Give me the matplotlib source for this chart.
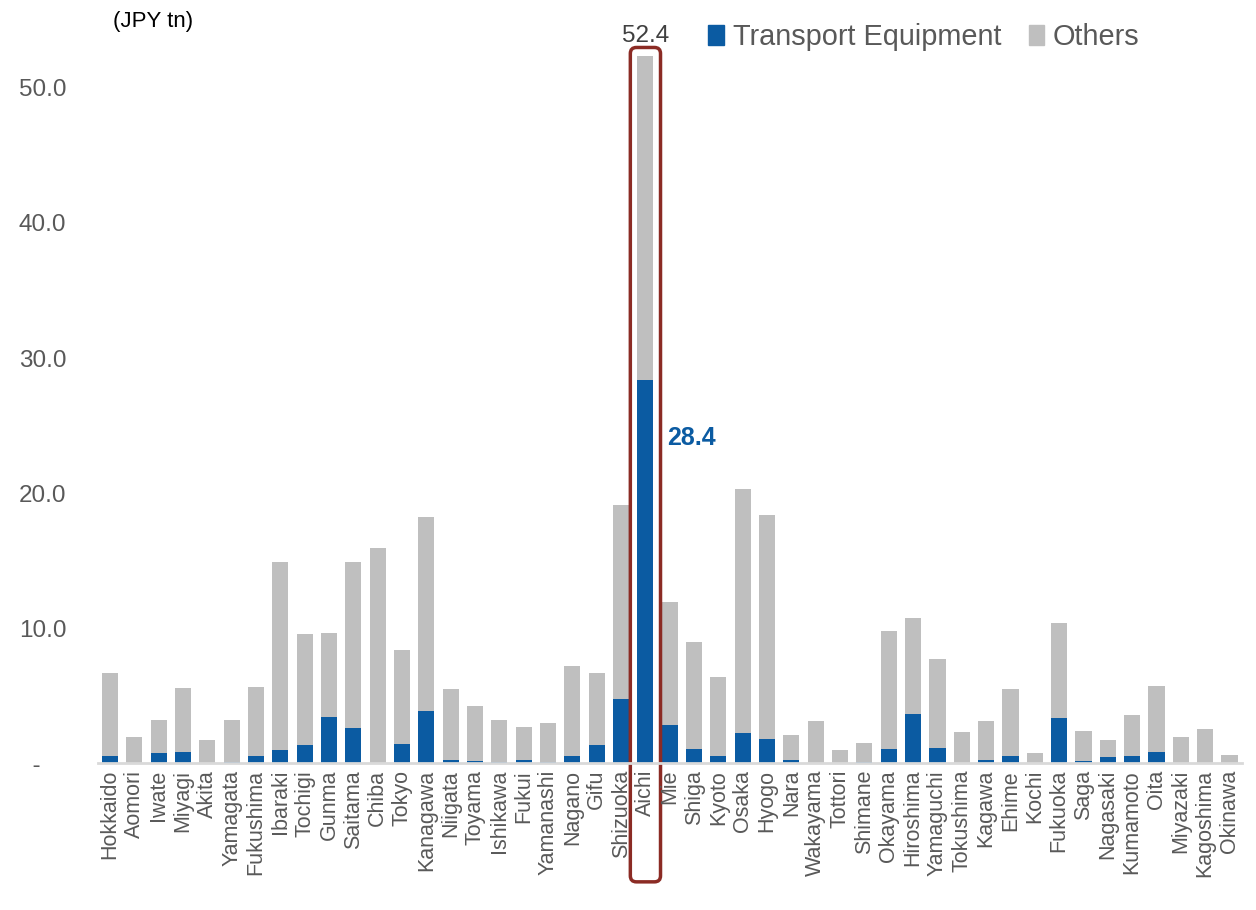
import numpy as np
import matplotlib.pyplot as plt
from matplotlib.patches import FancyBboxPatch, Patch

plt.rcParams['font.family'] = ['Liberation Sans', 'DejaVu Sans']

prefectures = ['Hokkaido', 'Aomori', 'Iwate', 'Miyagi', 'Akita', 'Yamagata', 'Fukushima',
               'Ibaraki', 'Tochigi', 'Gunma', 'Saitama', 'Chiba', 'Tokyo', 'Kanagawa',
               'Niigata', 'Toyama', 'Ishikawa', 'Fukui', 'Yamanashi', 'Nagano', 'Gifu',
               'Shizuoka', 'Aichi', 'Mie', 'Shiga', 'Kyoto', 'Osaka', 'Hyogo', 'Nara',
               'Wakayama', 'Tottori', 'Shimane', 'Okayama', 'Hiroshima', 'Yamaguchi',
               'Tokushima', 'Kagawa', 'Ehime', 'Kochi', 'Fukuoka', 'Saga', 'Nagasaki',
               'Kumamoto', 'Oita', 'Miyazaki', 'Kagoshima', 'Okinawa']

# total shipments (JPY tn) and transport equipment part
total = [6.7, 1.9, 3.2, 5.55, 1.7, 3.2, 5.6,
         14.9, 9.55, 9.6, 14.9, 15.95, 8.35, 18.25,
         5.45, 4.2, 3.2, 2.65, 3.0, 7.2, 6.65,
         19.1, 52.4, 11.9, 9.0, 6.35, 20.3, 18.4, 2.05,
         3.15, 1.0, 1.5, 9.8, 10.75, 7.7,
         2.3, 3.15, 5.45, 0.75, 10.4, 2.4, 1.7,
         3.55, 5.7, 1.95, 2.5, 0.6]
transport = [0.5, 0.0, 0.75, 0.8, 0.0, 0.1, 0.55,
             0.95, 1.35, 3.4, 2.6, 0.0, 1.4, 3.85,
             0.2, 0.15, 0.1, 0.2, 0.1, 0.55, 1.3,
             4.75, 28.4, 2.85, 1.05, 0.55, 2.2, 1.8, 0.2,
             0.0, 0.0, 0.05, 1.05, 3.6, 1.1,
             0.0, 0.2, 0.5, 0.0, 3.3, 0.15, 0.45,
             0.5, 0.85, 0.0, 0.0, 0.0]
others = [t - e for t, e in zip(total, transport)]

blue = '#0B5BA2'
grey = '#BFBFBF'
txt = '#595959'
hl = 'Aichi'

fig = plt.figure(figsize=(12.56, 9.10), dpi=100)
ax = fig.add_axes([0.0779, 0.1615, 0.9107, 0.816])

x = np.arange(len(prefectures))
ax.bar(x, transport, width=0.66, color=blue, label='Transport Equipment')
ax.bar(x, others, width=0.66, bottom=transport, color=grey, label='Others')

ax.set_xlim(-0.5, len(prefectures) - 0.5)
ax.set_ylim(0, 55)
ax.set_xticks(x)
ax.set_xticklabels(prefectures, rotation=90, fontsize=15.5, color=txt)
ax.set_yticks([0, 10, 20, 30, 40, 50])
ax.set_yticklabels(['  -', '10.0', '20.0', '30.0', '40.0', '50.0'], fontsize=17.5, color=txt)
for lab in ax.get_yticklabels():
    lab.set_horizontalalignment('left')
ax.tick_params(axis='y', length=0, pad=57)
ax.tick_params(axis='x', length=0, pad=5)
for s in ['top', 'right', 'left']:
    ax.spines[s].set_visible(False)
ax.spines['bottom'].set_color('#D9D9D9')
ax.spines['bottom'].set_linewidth(2)

i = prefectures.index(hl)
ax.text(i, total[i] + 0.6, f'{total[i]:.1f}', ha='center', va='bottom', fontsize=17.5, color='#404040')
ax.text(i + 0.88, transport[i] - 4.3, f'{transport[i]:.1f}', ha='left', va='center',
        fontsize=18, fontweight='bold', color=blue)

box = FancyBboxPatch((i - 0.62, -8.8), 1.24, 61.8,
                     boxstyle='round,pad=0,rounding_size=0.25', mutation_aspect=1.8,
                     fill=False, edgecolor='#8B2B24', linewidth=2.5, clip_on=False)
ax.add_patch(box)

fig.text(113 / 1256, 1 - 22 / 910, '(JPY tn)', fontsize=16, color='black', va='center', ha='left')

handles = [Patch(color=blue), Patch(color=grey)]
leg = fig.legend(handles, ['Transport Equipment', 'Others'], loc='center left',
                 bbox_to_anchor=(708 / 1256, 1 - 37 / 910), ncol=2, frameon=False,
                 fontsize=20.8, handlelength=0.55, handleheight=0.7, handletextpad=0.3,
                 columnspacing=0.95, borderpad=0, borderaxespad=0)
for t in leg.get_texts():
    t.set_color(txt)

fig.savefig('out.png', dpi=100)
